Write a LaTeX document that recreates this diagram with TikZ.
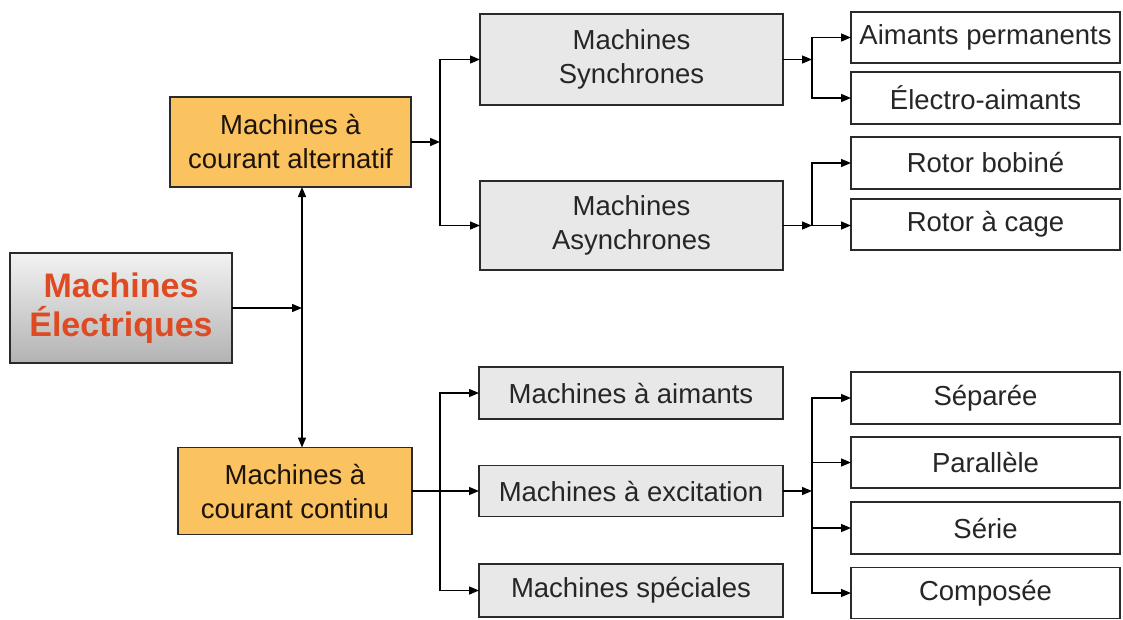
\documentclass[tikz,border=0pt]{standalone}
\usepackage{fontspec}
\setmainfont{Liberation Sans}
\usetikzlibrary{arrows.meta}
\definecolor{orangebox}{HTML}{FAC35F}
\definecolor{graybox}{HTML}{E8E8E8}
\definecolor{titlered}{HTML}{DE4A22}
\definecolor{edge}{HTML}{2A2A2A}
\tikzset{
  box/.style={draw=edge, line width=1.4pt, inner sep=0pt, outer sep=0pt, align=center,
    font=\fontsize{27.5}{34}\selectfont, text=black!85},
  orangebx/.style={box, fill=orangebox, text=black!85!brown},
  graybx/.style={box, fill=graybox},
  whitebx/.style={box, fill=white},
  mainbx/.style={box, top color=black!5, bottom color=black!30, text=titlered,
    font=\fontsize{34}{39}\selectfont\bfseries},
  arr/.style={line width=1.4pt, draw=black, -{Triangle[length=10pt,width=8pt]}},
  ln/.style={line width=1.4pt, draw=black}
}
\begin{document}
\begin{tikzpicture}[x=1pt,y=-1pt]
\useasboundingbox (0,0) rectangle (1123,619);
% main
\node[mainbx, minimum width=222pt, minimum height=110pt] (main) at (121,308) {Machines\\Électriques};
% level 1
\node[orangebx, minimum width=241pt, minimum height=90pt] (ac) at (290.5,142) {Machines à\\courant alternatif};
\node[orangebx, minimum width=234pt, minimum height=87pt] (dc) at (295,491) {Machines à\\courant continu};
% level 2
\node[graybx, minimum width=303pt, minimum height=91pt] (sync) at (631.5,59.5) {Machines\\Synchrones};
\node[graybx, minimum width=303pt, minimum height=89pt] (async) at (631.5,225.5) {Machines\\Asynchrones};
\node[graybx, minimum width=304pt, minimum height=52pt] (maim) at (631,393) {Machines à aimants};
\node[graybx, minimum width=304pt, minimum height=51pt] (mexc) at (631,491) {Machines à excitation};
\node[graybx, minimum width=304pt, minimum height=53pt] (mspe) at (631,590.5) {Machines spéciales};
% level 3
\node[whitebx, minimum width=269pt, minimum height=51pt] (ap) at (985.5,37.5) {Aimants permanents};
\node[whitebx, minimum width=269pt, minimum height=52pt] (ea) at (985.5,98) {Électro-aimants};
\node[whitebx, minimum width=269pt, minimum height=52pt] (rb) at (985.5,163) {Rotor bobiné};
\node[whitebx, minimum width=269pt, minimum height=51pt] (rc) at (985.5,224.5) {Rotor à cage};
\node[whitebx, minimum width=269pt, minimum height=52pt] (sep) at (985.5,398) {Séparée};
\node[whitebx, minimum width=269pt, minimum height=51pt] (par) at (985.5,462.5) {Parallèle};
\node[whitebx, minimum width=269pt, minimum height=52pt] (ser) at (985.5,528) {Série};
\node[whitebx, minimum width=269pt, minimum height=51pt] (comp) at (985.5,593) {Composée};
% junctions
\coordinate (j1) at (302,308);
\coordinate (j2) at (440,142);
\coordinate (j3) at (812,59.5);
\coordinate (j4) at (812,225.5);
\coordinate (j5) at (440,491);
\coordinate (j6) at (812,491);
% connectors
\draw[arr] (main.east) -- (j1);
\draw[arr] (j1) -- (ac.south -| j1);
\draw[arr] (j1) -- (dc.north -| j1);
\draw[arr] (ac.east) -- (j2);
\draw[arr] (j2) |- (sync.west);
\draw[arr] (j2) |- (async.west);
\draw[arr] (sync.east) -- (j3);
\draw[arr] (j3) |- (ap.west);
\draw[arr] (j3) |- (ea.west);
\draw[arr] (async.east) -- (j4);
\draw[arr] (j4) |- (rb.west);
\draw[arr] (j4) -- (rc.west |- j4);
\draw[arr] (dc.east) -- (mexc.west |- dc.east);
\draw[arr] (j5) |- (maim.west);
\draw[arr] (j5) |- (mspe.west);
\draw[arr] (mexc.east) -- (j6);
\draw[arr] (j6) |- (sep.west);
\draw[arr] (j6) |- (par.west);
\draw[arr] (j6) |- (ser.west);
\draw[arr] (j6) |- (comp.west);
\end{tikzpicture}
\end{document}
